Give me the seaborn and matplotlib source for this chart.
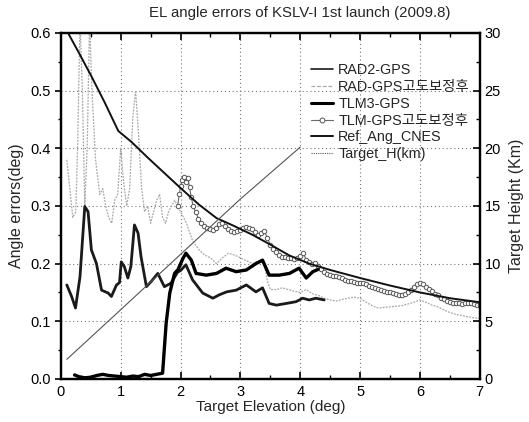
import matplotlib
matplotlib.use("Agg")
import matplotlib.pyplot as plt
import seaborn as sns
import pandas as pd
from matplotlib.ticker import MultipleLocator
from matplotlib.lines import Line2D

# ---------------- data ----------------
rad2_x = [0.10, 0.18, 0.245, 0.32, 0.40, 0.455, 0.51, 0.595, 0.68, 0.79, 0.845, 0.93, 0.98, 1.01,
          1.06, 1.12, 1.17, 1.23, 1.29, 1.34, 1.43, 1.51, 1.62, 1.73, 1.84, 1.95, 2.00, 2.09,
          2.20, 2.37, 2.54, 2.65, 2.77, 2.93, 3.10, 3.26, 3.37, 3.48, 3.60, 3.77, 3.93, 4.04,
          4.15, 4.26, 4.40]
rad2_y = [0.163, 0.143, 0.123, 0.177, 0.299, 0.290, 0.224, 0.200, 0.154, 0.149, 0.143, 0.163, 0.167, 0.203,
          0.195, 0.175, 0.195, 0.267, 0.253, 0.212, 0.160, 0.169, 0.183, 0.160, 0.166, 0.185, 0.188, 0.198,
          0.172, 0.149, 0.140, 0.146, 0.151, 0.154, 0.163, 0.151, 0.158, 0.131, 0.128, 0.131, 0.134, 0.140,
          0.137, 0.140, 0.137]

radc_x = [0.10, 0.15, 0.20, 0.25, 0.28, 0.32, 0.36, 0.40, 0.44, 0.48, 0.52, 0.58, 0.65, 0.70, 0.75,
          0.80, 0.85, 0.90, 0.95, 1.00, 1.05, 1.10, 1.15, 1.20, 1.25, 1.30, 1.35, 1.40, 1.45, 1.50,
          1.55, 1.60, 1.65, 1.70, 1.75, 1.80, 1.85, 1.90, 1.95, 2.00, 2.05, 2.10, 2.15, 2.20, 2.30,
          2.40, 2.50, 2.60, 2.70, 2.80, 2.90, 3.00, 3.10, 3.20, 3.30, 3.40, 3.45, 3.50, 3.60, 3.70,
          3.80, 3.90, 4.00, 4.10, 4.20, 4.30, 4.40, 4.50, 4.60, 4.70, 4.80, 4.90, 5.00, 5.10, 5.20,
          5.30, 5.40, 5.50, 5.60, 5.70, 5.80, 5.90, 6.00, 6.10, 6.20, 6.30, 6.40, 6.50, 6.60, 6.70,
          6.80, 6.90, 7.00]
radc_y = [0.38, 0.33, 0.28, 0.29, 0.40, 0.62, 0.50, 0.30, 0.40, 0.62, 0.50, 0.38, 0.32, 0.33, 0.30,
          0.28, 0.27, 0.31, 0.32, 0.40, 0.34, 0.30, 0.33, 0.45, 0.50, 0.42, 0.33, 0.29, 0.30, 0.27,
          0.29, 0.31, 0.32, 0.28, 0.27, 0.29, 0.30, 0.31, 0.30, 0.29, 0.28, 0.27, 0.255, 0.24, 0.225,
          0.215, 0.21, 0.20, 0.21, 0.218, 0.215, 0.21, 0.205, 0.20, 0.205, 0.20, 0.17, 0.155, 0.155, 0.158,
          0.155, 0.152, 0.150, 0.155, 0.148, 0.145, 0.140, 0.137, 0.135, 0.138, 0.140, 0.142, 0.140, 0.133, 0.127,
          0.123, 0.124, 0.125, 0.126, 0.127, 0.130, 0.133, 0.137, 0.133, 0.128, 0.125, 0.120, 0.115, 0.112, 0.110,
          0.108, 0.106, 0.105]

tlm3_x = [0.23, 0.30, 0.40, 0.50, 0.60, 0.70, 0.80, 0.90, 1.00, 1.10, 1.20, 1.30, 1.40, 1.50, 1.60,
          1.70, 1.76, 1.82, 1.90, 1.96, 2.04, 2.09, 2.18, 2.26, 2.43, 2.60, 2.76, 2.93, 3.10, 3.26,
          3.37, 3.48, 3.65, 3.82, 3.98, 4.10, 4.21, 4.30]
tlm3_y = [0.007, 0.004, 0.002, 0.003, 0.006, 0.008, 0.006, 0.005, 0.004, 0.003, 0.005, 0.004, 0.008, 0.006, 0.008,
          0.010, 0.097, 0.149, 0.183, 0.190, 0.209, 0.218, 0.206, 0.183, 0.180, 0.183, 0.192, 0.186, 0.189, 0.200,
          0.206, 0.180, 0.180, 0.183, 0.192, 0.175, 0.186, 0.190]

tlmc_x = [1.95, 1.98, 2.00, 2.03, 2.06, 2.09, 2.12, 2.15, 2.18, 2.21, 2.25, 2.30, 2.35, 2.40, 2.45,
          2.50, 2.55, 2.60, 2.65, 2.70, 2.75, 2.80, 2.85, 2.90, 2.95, 3.00, 3.05, 3.10, 3.15, 3.20,
          3.25, 3.30, 3.35, 3.40, 3.45, 3.50, 3.55, 3.60, 3.65, 3.70, 3.75, 3.80, 3.85, 3.90, 3.95,
          4.00, 4.05, 4.10, 4.15, 4.20, 4.25, 4.30, 4.35, 4.40, 4.45, 4.50, 4.55, 4.60, 4.65, 4.70,
          4.75, 4.80, 4.85, 4.90, 4.95, 5.00, 5.05, 5.10, 5.15, 5.20, 5.25, 5.30, 5.35, 5.40, 5.45,
          5.50, 5.55, 5.60, 5.65, 5.70, 5.75, 5.80, 5.85, 5.90, 5.95, 6.00, 6.05, 6.10, 6.15, 6.20,
          6.25, 6.30, 6.35, 6.40, 6.45, 6.50, 6.55, 6.60, 6.65, 6.70, 6.75, 6.80, 6.85, 6.90, 6.95,
          7.00]
tlmc_y = [0.300, 0.320, 0.335, 0.345, 0.350, 0.342, 0.348, 0.332, 0.315, 0.300, 0.290, 0.278, 0.270, 0.265, 0.262,
          0.260, 0.258, 0.262, 0.268, 0.270, 0.265, 0.260, 0.257, 0.255, 0.256, 0.258, 0.262, 0.264, 0.262, 0.260,
          0.255, 0.250, 0.253, 0.256, 0.245, 0.232, 0.225, 0.220, 0.215, 0.212, 0.211, 0.210, 0.209, 0.208, 0.210,
          0.214, 0.218, 0.207, 0.202, 0.200, 0.201, 0.196, 0.190, 0.185, 0.182, 0.180, 0.179, 0.178, 0.176, 0.175,
          0.172, 0.170, 0.169, 0.168, 0.167, 0.166, 0.166, 0.165, 0.162, 0.160, 0.158, 0.156, 0.154, 0.152, 0.151,
          0.150, 0.149, 0.148, 0.146, 0.145, 0.147, 0.150, 0.155, 0.160, 0.164, 0.167, 0.165, 0.160, 0.156, 0.152,
          0.148, 0.145, 0.141, 0.138, 0.135, 0.133, 0.132, 0.132, 0.131, 0.130, 0.131, 0.132, 0.131, 0.130, 0.129,
          0.128]

ref_x = [0.12, 0.32, 0.51, 0.73, 0.96, 1.18, 1.46, 1.73, 1.98, 2.30, 2.60, 2.90, 3.20, 3.50, 3.82,
         4.15, 4.50, 5.00, 5.50, 6.00, 6.50, 7.00]
ref_y = [0.600, 0.562, 0.525, 0.480, 0.430, 0.411, 0.383, 0.357, 0.333, 0.303, 0.279, 0.265, 0.250, 0.233, 0.214,
         0.200, 0.189, 0.175, 0.162, 0.150, 0.140, 0.133]

th_x = [0.10, 1.00, 2.00, 3.00, 4.00]
th_y = [1.7, 6.0, 10.8, 15.6, 20.1]

labels = ["RAD2-GPS", "RAD-GPS고도보정후", "TLM3-GPS", "TLM-GPS고도보정후", "Ref_Ang_CNES", "Target_H(km)"]
title = "EL angle errors of KSLV-I 1st launch (2009.8)"

# ---------------- plot ----------------
sns.set_style("white")
plt.rcParams["font.family"] = ["Liberation Sans", "Noto Sans CJK KR", "DejaVu Sans"]

fig = plt.figure(figsize=(5.29, 4.22), dpi=100)
ax = fig.add_axes([0.115, 0.102, 0.792, 0.820])
ax2 = ax.twinx()

def df(x, y):
    return pd.DataFrame({"x": x, "y": y})

sns.lineplot(data=df(radc_x, radc_y), x="x", y="y", ax=ax, color="#a8a8a8", lw=0.9,
             linestyle=(0, (1.5, 1)), sort=False, estimator=None, label=labels[1], legend=False)
sns.lineplot(data=df(tlmc_x, tlmc_y), x="x", y="y", ax=ax, color="#6a6a6a", lw=0.8,
             marker="o", markersize=3.2, markerfacecolor="white", markeredgecolor="#555555",
             markeredgewidth=0.7, sort=False, estimator=None, label=labels[3], legend=False)
sns.lineplot(data=df(ref_x, ref_y), x="x", y="y", ax=ax, color="#111111", lw=1.4,
             sort=False, estimator=None, label=labels[4], legend=False)
sns.lineplot(data=df(rad2_x, rad2_y), x="x", y="y", ax=ax, color="#1a1a1a", lw=2.0,
             sort=False, estimator=None, label=labels[0], legend=False)
sns.lineplot(data=df(tlm3_x, tlm3_y), x="x", y="y", ax=ax, color="#000000", lw=2.4,
             sort=False, estimator=None, label=labels[2], legend=False)
sns.lineplot(data=df(th_x, th_y), x="x", y="y", ax=ax2, color="#555555", lw=0.8,
             sort=False, estimator=None, label=labels[5], legend=False)

ax.set_xlim(0, 7)
ax.set_ylim(0, 0.6)
ax2.set_ylim(0, 30)

ax.xaxis.set_major_locator(MultipleLocator(1))
ax.xaxis.set_minor_locator(MultipleLocator(0.5))
ax.yaxis.set_major_locator(MultipleLocator(0.1))
ax.yaxis.set_minor_locator(MultipleLocator(0.05))
ax2.yaxis.set_major_locator(MultipleLocator(5))
ax2.yaxis.set_minor_locator(MultipleLocator(2.5))
ax.yaxis.set_major_formatter(matplotlib.ticker.FormatStrFormatter("%.1f"))

ax.grid(True, which="major", color="#777777", linestyle=(0, (1, 2.5)), lw=0.8)
ax.set_axisbelow(True)

for a in (ax, ax2):
    for s in a.spines.values():
        s.set_linewidth(1.6)
        s.set_color("black")

ax.tick_params(axis="x", which="both", direction="in", top=True, bottom=True, labelsize=10.5,
               colors="black", pad=4)
ax.tick_params(axis="x", which="major", length=5, width=1.2)
ax.tick_params(axis="x", which="minor", length=3, width=1.0)
ax.tick_params(axis="y", which="both", direction="out", left=True, labelsize=10.5, colors="black")
ax.tick_params(axis="y", which="major", length=4, width=1.2)
ax.tick_params(axis="y", which="minor", length=2.5, width=1.0)
ax2.tick_params(axis="y", which="both", direction="in", right=True, labelsize=10.5, colors="black")
ax2.tick_params(axis="y", which="major", length=5, width=1.2)
ax2.tick_params(axis="y", which="minor", length=3, width=1.0)

ax.set_xlabel("Target Elevation (deg)", fontsize=11, labelpad=1)
ax.set_ylabel("Angle errors(deg)", fontsize=11.5, labelpad=4)
ax2.set_ylabel("Target Height (Km)", fontsize=11.5, labelpad=6)
fig.text(300 / 529, 1 - 13 / 422, title, fontsize=10.8, ha="center", va="center")

handles = [
    Line2D([], [], color="#1a1a1a", lw=1.2),
    Line2D([], [], color="#a8a8a8", lw=0.9, linestyle=(0, (3, 1.5))),
    Line2D([], [], color="#000000", lw=2.2),
    Line2D([], [], color="#6a6a6a", lw=0.8, marker="o", markersize=3.5,
           markerfacecolor="white", markeredgecolor="#555555", markeredgewidth=0.7),
    Line2D([], [], color="#111111", lw=1.4),
    Line2D([], [], color="#555555", lw=0.8, linestyle=(0, (1, 1))),
]
leg = ax.legend(handles, labels, loc="upper left", bbox_to_anchor=(0.583, 0.93),
                frameon=False, fontsize=10.4, handlelength=1.5, handletextpad=0.4,
                labelspacing=0.2, borderaxespad=0)
leg.set_zorder(10)

fig.savefig("out.png", dpi=100)
